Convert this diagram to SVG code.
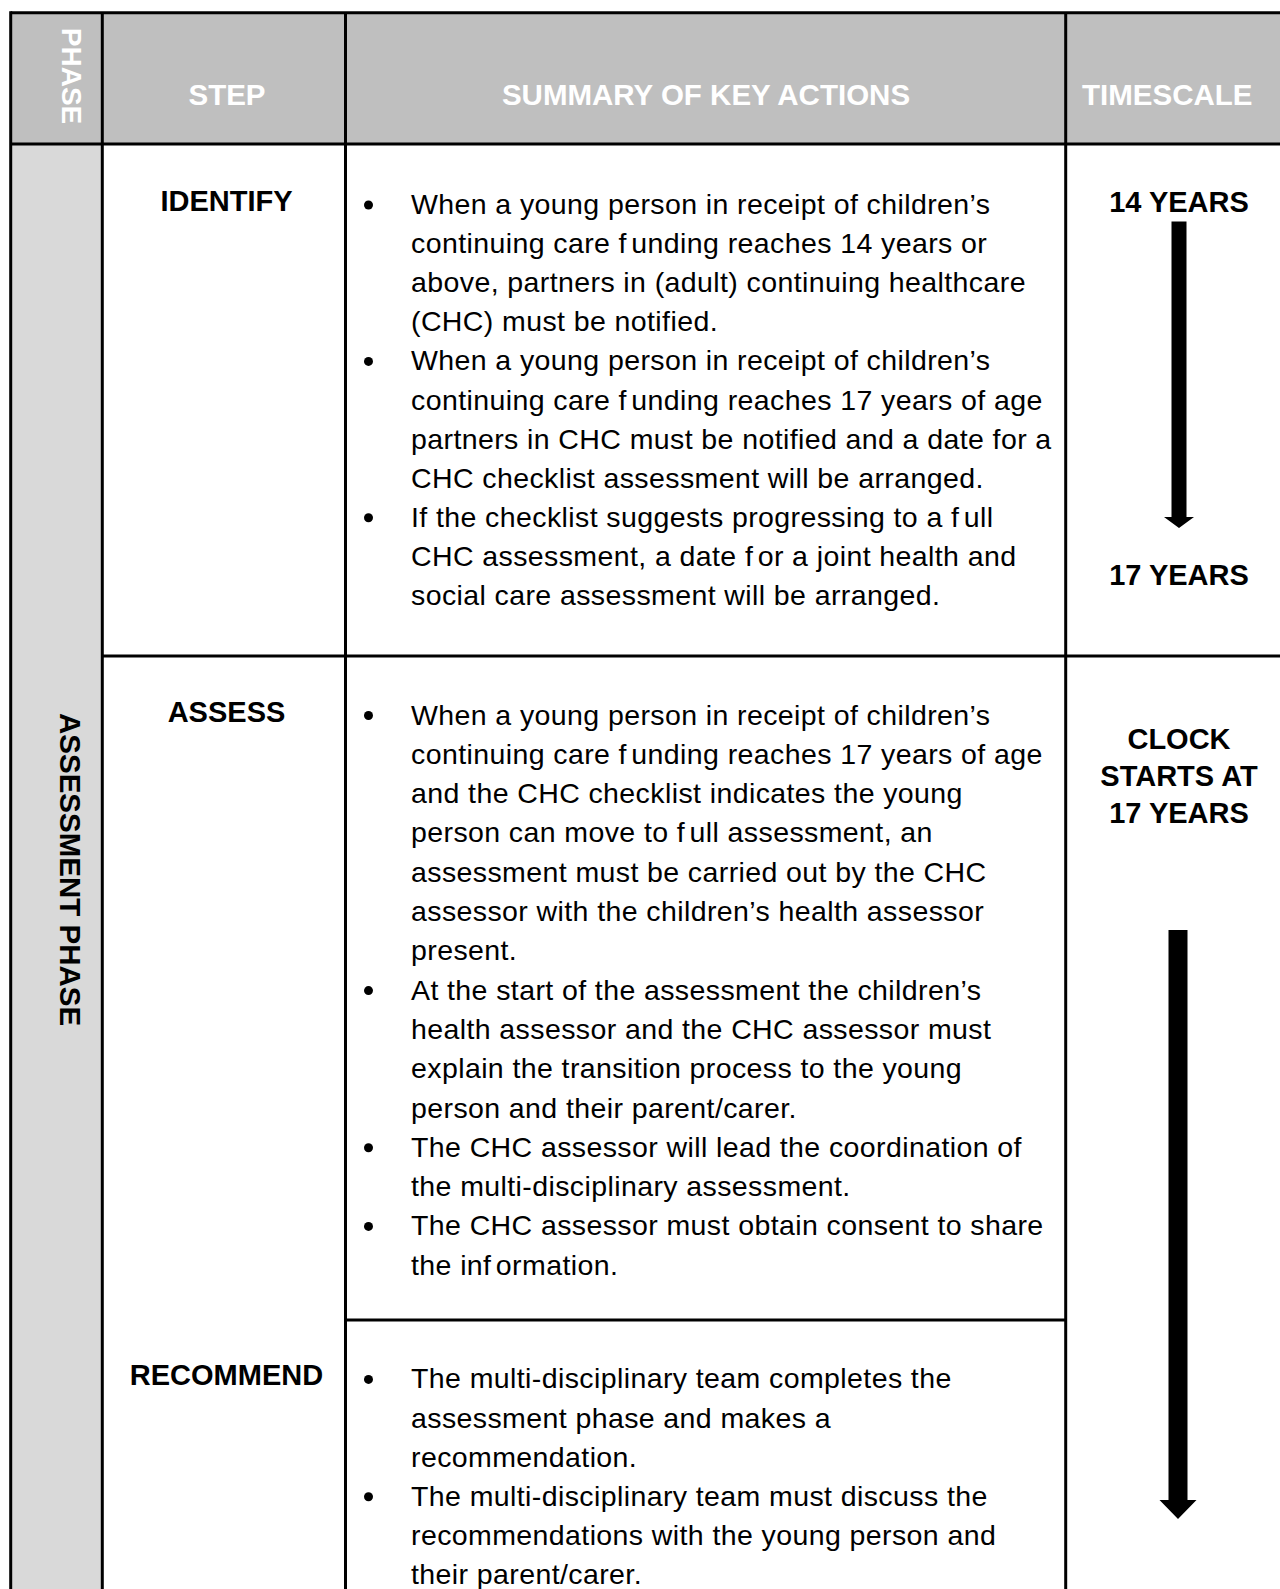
<svg xmlns="http://www.w3.org/2000/svg" width="1280" height="1589" viewBox="0 0 1280 1589">
<style>
.hdr{font-family:"Liberation Sans",Arial,sans-serif;font-weight:bold;font-size:29.5px;fill:#ffffff}
.lbl{font-family:"Liberation Sans",Arial,sans-serif;font-weight:bold;font-size:29px;fill:#000000}
.body{font-family:"Liberation Sans",Arial,sans-serif;font-size:28.5px;letter-spacing:0.4px;fill:#000000}
.gap{letter-spacing:-3.5px}
.grid{stroke:#000000;stroke-width:3;fill:none}
.bul{fill:#000000}
.arr{fill:#000000}
</style>
<rect x="0" y="0" width="1280" height="1589" fill="#ffffff"/>
<g id="background">
<rect x="10.7" y="12.7" width="1270" height="131.3" fill="#bfbfbf"/>
<rect x="10.7" y="144" width="91.6" height="1445" fill="#d9d9d9"/>
</g>
<g id="grid">
<line class="grid" x1="10.7" y1="12.7" x2="1280" y2="12.7"/>
<line class="grid" x1="10.7" y1="11.2" x2="10.7" y2="1589"/>
<line class="grid" x1="102.3" y1="12.7" x2="102.3" y2="1589"/>
<line class="grid" x1="345.5" y1="12.7" x2="345.5" y2="1589"/>
<line class="grid" x1="1065.7" y1="12.7" x2="1065.7" y2="1589"/>
<line class="grid" x1="10.7" y1="144" x2="1280" y2="144"/>
<line class="grid" x1="102.3" y1="656" x2="1280" y2="656"/>
<line class="grid" x1="345.5" y1="1320" x2="1065.7" y2="1320"/>
</g>
<g id="header">
<text class="hdr" transform="translate(62,76) rotate(90)" text-anchor="middle" style="font-size:28px">PHASE</text>
<text class="hdr" x="227" y="105" text-anchor="middle">STEP</text>
<text class="hdr" x="706" y="105" text-anchor="middle">SUMMARY OF KEY ACTIONS</text>
<text class="hdr" x="1082" y="105">TIMESCALE</text>
</g>
<g id="phase-assessment">
<text class="lbl" transform="translate(60,713) rotate(90)" style="font-size:29.5px">ASSESSMENT PHASE</text>
</g>
<g id="step-identify">
<text class="lbl" x="226.5" y="211" text-anchor="middle">IDENTIFY</text>
<circle class="bul" cx="368.5" cy="205" r="4.5"/>
<circle class="bul" cx="368.5" cy="361.4" r="4.5"/>
<circle class="bul" cx="368.5" cy="517.8" r="4.5"/>
<text class="body">
<tspan x="411" y="214">When a young person in receipt of children’s</tspan>
<tspan x="411" y="253.1">continuing care f<tspan class="gap"> </tspan>unding reaches 14 years or</tspan>
<tspan x="411" y="292.2">above, partners in (adult) continuing healthcare</tspan>
<tspan x="411" y="331.3">(CHC) must be notified.</tspan>
<tspan x="411" y="370.4">When a young person in receipt of children’s</tspan>
<tspan x="411" y="409.5">continuing care f<tspan class="gap"> </tspan>unding reaches 17 years of age</tspan>
<tspan x="411" y="448.6">partners in CHC must be notified and a date for a</tspan>
<tspan x="411" y="487.7">CHC checklist assessment will be arranged.</tspan>
<tspan x="411" y="526.8">If the checklist suggests progressing to a f<tspan class="gap"> </tspan>ull</tspan>
<tspan x="411" y="565.9">CHC assessment, a date f<tspan class="gap"> </tspan>or a joint health and</tspan>
<tspan x="411" y="605">social care assessment will be arranged.</tspan>
</text>
</g>
<g id="step-assess">
<text class="lbl" x="226.5" y="722" text-anchor="middle">ASSESS</text>
<circle class="bul" cx="368.5" cy="715.5" r="4.5"/>
<circle class="bul" cx="368.5" cy="990.6" r="4.5"/>
<circle class="bul" cx="368.5" cy="1147.8" r="4.5"/>
<circle class="bul" cx="368.5" cy="1226.4" r="4.5"/>
<text class="body">
<tspan x="411" y="724.5">When a young person in receipt of children’s</tspan>
<tspan x="411" y="763.8">continuing care f<tspan class="gap"> </tspan>unding reaches 17 years of age</tspan>
<tspan x="411" y="803.1">and the CHC checklist indicates the young</tspan>
<tspan x="411" y="842.4">person can move to f<tspan class="gap"> </tspan>ull assessment, an</tspan>
<tspan x="411" y="881.7">assessment must be carried out by the CHC</tspan>
<tspan x="411" y="921">assessor with the children’s health assessor</tspan>
<tspan x="411" y="960.3">present.</tspan>
<tspan x="411" y="999.6">At the start of the assessment the children’s</tspan>
<tspan x="411" y="1038.9">health assessor and the CHC assessor must</tspan>
<tspan x="411" y="1078.2">explain the transition process to the young</tspan>
<tspan x="411" y="1117.5">person and their parent/carer.</tspan>
<tspan x="411" y="1156.8">The CHC assessor will lead the coordination of</tspan>
<tspan x="411" y="1196.1">the multi-disciplinary assessment.</tspan>
<tspan x="411" y="1235.4">The CHC assessor must obtain consent to share</tspan>
<tspan x="411" y="1274.7">the inf<tspan class="gap"> </tspan>ormation.</tspan>
</text>
</g>
<g id="step-recommend">
<text class="lbl" x="226.5" y="1385" text-anchor="middle">RECOMMEND</text>
<circle class="bul" cx="368.5" cy="1379.4" r="4.5"/>
<circle class="bul" cx="368.5" cy="1496.7" r="4.5"/>
<text class="body">
<tspan x="411" y="1388.4">The multi-disciplinary team completes the</tspan>
<tspan x="411" y="1427.5">assessment phase and makes  a</tspan>
<tspan x="411" y="1466.6">recommendation.</tspan>
<tspan x="411" y="1505.7">The multi-disciplinary team must discuss the</tspan>
<tspan x="411" y="1544.8">recommendations with the young person and</tspan>
<tspan x="411" y="1583.9">their parent/carer.</tspan>
</text>
</g>
<g id="timescale-identify">
<text class="lbl" x="1179" y="212" text-anchor="middle">14 YEARS</text>
<text class="lbl" x="1179" y="585" text-anchor="middle">17 YEARS</text>
</g>
<g id="timescale-assess">
<text class="lbl" x="1179" y="749" text-anchor="middle">CLOCK</text>
<text class="lbl" x="1179" y="786" text-anchor="middle">STARTS AT</text>
<text class="lbl" x="1179" y="823" text-anchor="middle">17 YEARS</text>
</g>
<g id="connectors">
<path class="arr" d="M1171.5,221.5 H1186.5 V517 H1194 L1179,528 L1164,517 H1171.5 Z"/>
<path class="arr" d="M1168.5,930 H1187.5 V1500 H1196.5 L1178,1519 L1159.5,1500 H1168.5 Z"/>
</g>
</svg>
